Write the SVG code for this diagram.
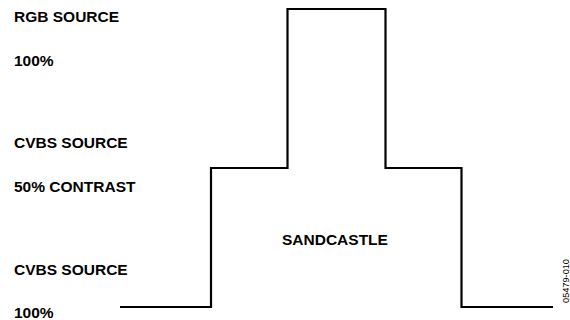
<svg xmlns="http://www.w3.org/2000/svg" width="570" height="320" viewBox="0 0 570 320">
<style>
.lbl{font-family:"Liberation Sans",Arial,sans-serif;font-weight:bold;font-size:15.5px;fill:#000}
.code{font-family:"Liberation Sans",Arial,sans-serif;font-size:9.2px;fill:#000}
.wave{fill:none;stroke:#000;stroke-width:2.2;stroke-linejoin:miter}
</style>
<rect width="570" height="320" fill="#fff"/>
<g id="labels">
<text class="lbl" x="14" y="22">RGB SOURCE</text>
<text class="lbl" x="14" y="66">100%</text>
<text class="lbl" x="14" y="148">CVBS SOURCE</text>
<text class="lbl" x="14" y="192">50% CONTRAST</text>
<text class="lbl" x="14" y="275">CVBS SOURCE</text>
<text class="lbl" x="14" y="318">100%</text>
</g>
<g id="connectors">
<path id="sandcastle-wave" class="wave" d="M120,307 H211 V168 H287.5 V9 H385.5 V168 H461.5 V307 H553"/>
</g>
<g id="sandcastle">
<text class="lbl" x="282" y="245">SANDCASTLE</text>
</g>
<text class="code" transform="translate(568.5,281) rotate(-90)" text-anchor="middle">05479-010</text>
</svg>
